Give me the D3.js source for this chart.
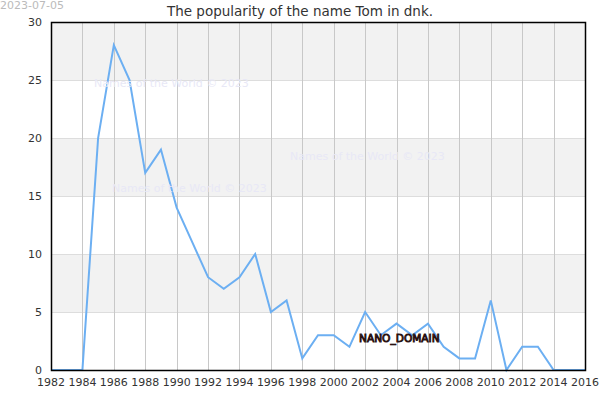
<!DOCTYPE html>
<head>
    <title>The popularity of the name Tom in dnk.</title>
</head>
<meta charset="utf-8">

<script src="https://d3js.org/d3.v7.min.js"></script>

<body style="margin:0">
<div id="my_dataviz"></div>
<script>

var years = [1982,1983,1984,1985,1986,1987,1988,1989,1990,1991,1992,1993,1994,1995,1996,1997,1998,1999,
  2000,2001,2002,2003,2004,2005,2006,2007,2008,2009,2010,2011,2012,2013,2014,2015,2016]
var counts = [0,0,0,20,28,25,17,19,14,11,8,7,8,10,5,6,1,3,3,2,5,3,4,3,4,2,1,1,6,0,2,2,0,0,0]
var xTicks = d3.range(1982, 2017, 2)
var yTicks = [0,5,10,15,20,25,30]
var bands = [[25,30],[15,20],[5,10]]
var title = "The popularity of the name Tom in dnk."
var dateLabel = "2023-07-05"
var watermark = "Names of the World © 2023"

var margin = {top: 22, right: 15, bottom: 30, left: 51},
  width = 600 - margin.left - margin.right,
  height = 400 - margin.top - margin.bottom;

var root = d3.select("#my_dataviz")
  .append("svg")
    .attr("width", 600)
    .attr("height", 400)
    .style("font-family", "DejaVu Sans, sans-serif")

var svg = root.append("g")
    .attr("transform", "translate(" + margin.left + "," + margin.top + ")");

var x = d3.scaleLinear().domain([1982, 2016]).range([0, width])
var y = d3.scaleLinear().domain([0, 30]).range([height, 0])

// grey bands
svg.selectAll("band")
  .data(bands).enter()
  .append("rect")
    .attr("x", 0)
    .attr("width", width)
    .attr("y", function(d){ return y(d[1]) })
    .attr("height", function(d){ return y(d[0]) - y(d[1]) })
    .style("fill", "#f2f2f2")

// horizontal grid
svg.selectAll("hgrid")
  .data(yTicks).enter()
  .append("line")
    .attr("x1", 0).attr("x2", width)
    .attr("y1", function(d){ return y(d) + 0.5 })
    .attr("y2", function(d){ return y(d) + 0.5 })
    .style("stroke", "#dddddd")

// vertical grid
svg.selectAll("vgrid")
  .data(xTicks).enter()
  .append("line")
    .attr("y1", 0).attr("y2", height)
    .attr("x1", function(d){ return Math.round(x(d)) + 0.5 })
    .attr("x2", function(d){ return Math.round(x(d)) + 0.5 })
    .style("stroke", "#c8c8c8")

// watermarks
var marks = [[94, 87], [290, 160], [112, 192]]
root.selectAll("wm")
  .data(marks).enter()
  .append("text")
    .attr("x", function(d){ return d[0] })
    .attr("y", function(d){ return d[1] })
    .style("font-size", "11px")
    .style("fill", "#e8e8f6")
    .text(watermark)

// the line
svg.append("path")
  .datum(years.map(function(yr, i){ return [yr, counts[i]] }))
  .attr("d", d3.line().x(function(d){ return x(d[0]) }).y(function(d){ return y(d[1]) }))
  .style("fill", "none")
  .style("stroke", "#6caff2")
  .style("stroke-width", 2)

// frame
svg.append("rect")
  .attr("x", 0.5).attr("y", 0.5)
  .attr("width", width).attr("height", height)
  .style("fill", "none")
  .style("stroke", "#000")
  .style("stroke-width", 1.5)

// axis labels
svg.selectAll("ylab")
  .data(yTicks).enter()
  .append("text")
    .attr("x", -9)
    .attr("y", function(d){ return y(d) + 4 })
    .style("text-anchor", "end")
    .style("font-size", "11px")
    .style("fill", "#333")
    .text(function(d){ return d })

svg.selectAll("xlab")
  .data(xTicks).enter()
  .append("text")
    .attr("x", function(d){ return x(d) })
    .attr("y", height + 16)
    .style("text-anchor", "middle")
    .style("font-size", "11px")
    .style("fill", "#333")
    .text(function(d){ return d })

// title and date
root.append("text")
  .attr("x", 300).attr("y", 16)
  .style("text-anchor", "middle")
  .style("font-size", "13.5px")
  .style("fill", "#333")
  .text(title)

root.append("text")
  .attr("x", 0).attr("y", 9)
  .style("font-size", "11px")
  .style("fill", "#bbbbbb")
  .text(dateLabel)

root.append("text")
  .attr("x", 359).attr("y", 342)
  .style("font-size", "10.6px")
  .style("fill", "#6a4636")
  .style("stroke", "#2a1212")
  .style("stroke-width", 0.9)
  .text("NANO_DOMAIN")

</script>
</body>
